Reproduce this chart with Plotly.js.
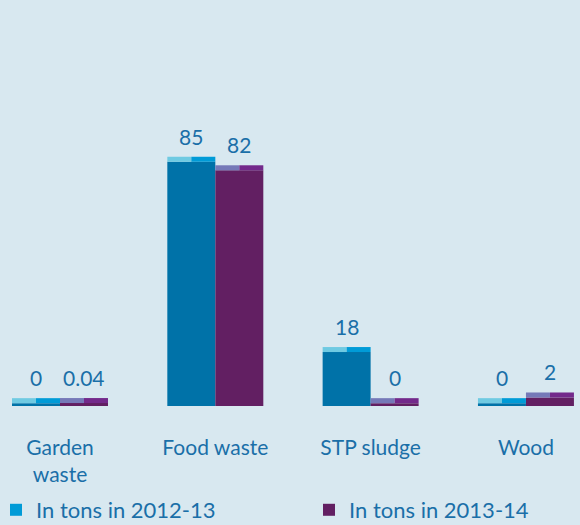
<!DOCTYPE html>
<html>
<head>
<meta charset="utf-8">
<script src="https://cdn.plot.ly/plotly-3.0.1.min.js"></script>
<style>html,body{margin:0;padding:0;background:#d8e8f0;}#chart{width:580px;height:525px;}</style>
</head>
<body>
<div id="chart"></div>
<script>
// ---- data ----
const categories = ["Garden<br>waste", "Food waste", "STP sludge", "Wood"];
const seriesNames = ["In tons in 2012-13", "In tons in 2013-14"];
const tons2012 = [0, 85, 18, 0];
const tons2013 = [0.04, 82, 0, 2];
const labels2012 = ["0", "85", "18", "0"];
const labels2013 = ["0.04", "82", "0", "2"];

// ---- style ----
const bg = "#d8e8f0";
const textColor = "#1a6fa8";
const font = "Lato, 'Open Sans', sans-serif";
const baseY = -1;      // visual floor below zero
const capH = 1.76;     // cap thickness in data units
const W = 0.309, H = W / 2;
const xs = categories.map((_, i) => i);

function bar(y, base, offset, width, color, extra) {
  return Object.assign({
    type: "bar", x: xs, y: y, base: base, offset: offset, width: width,
    marker: {color: color, line: {width: 0}}, showlegend: false, hoverinfo: "skip"
  }, extra || {});
}
const bodyY = v => v.map(d => d - baseY);
const caps = v => v.map(() => capH);

const traces = [
  bar(bodyY(tons2012), tons2012.map(() => baseY), -W, W, "#0072a8"),
  bar(bodyY(tons2013), tons2013.map(() => baseY), 0, W, "#621f62",
      {name: seriesNames[1], showlegend: true, legend: "legend2"}),
  bar(caps(tons2012), tons2012, -W, H, "#6fcae2"),
  bar(caps(tons2012), tons2012, -H, H, "#009bd7",
      {name: seriesNames[0], showlegend: true, legend: "legend"}),
  bar(caps(tons2013), tons2013, 0, H, "#7579b8"),
  bar(caps(tons2013), tons2013, H, H, "#73298b")
];

const annotations = [];
tons2012.forEach((v, i) => annotations.push({
  x: i - H, y: v + capH, text: labels2012[i], showarrow: false,
  yanchor: "bottom", yshift: 6, font: {size: 21, color: textColor, family: font}
}));
tons2013.forEach((v, i) => annotations.push({
  x: i + H, y: v + capH, text: labels2013[i], showarrow: false,
  yanchor: "bottom", yshift: 6, font: {size: 21, color: textColor, family: font}
}));

const legendBase = {
  orientation: "h", xref: "container", yref: "container",
  xanchor: "left", y: 0.0686, yanchor: "top", indentation: -9,
  font: {size: 22, color: textColor, family: font}, bgcolor: "rgba(0,0,0,0)"
};

const layout = {
  width: 580, height: 525,
  paper_bgcolor: bg, plot_bgcolor: bg,
  margin: {l: 0, r: 0, t: 20, b: 119},
  barmode: "overlay",
  font: {family: font, color: textColor},
  xaxis: {
    range: [-0.3863, 3.348], tickvals: xs, ticktext: categories,
    showgrid: false, zeroline: false, showline: false, ticks: "",
    ticklabelstandoff: 27, automargin: false,
    tickfont: {size: 21, color: textColor, family: font}, fixedrange: true
  },
  yaxis: {
    range: [baseY, baseY + 386 / 2.84], visible: false, fixedrange: true
  },
  showlegend: true,
  legend: Object.assign({}, legendBase, {x: 0.0086}),
  legend2: Object.assign({}, legendBase, {x: 0.5483}),
  annotations: annotations
};

Plotly.newPlot("chart", traces, layout, {displayModeBar: false, staticPlot: true});
</script>
</body>
</html>
